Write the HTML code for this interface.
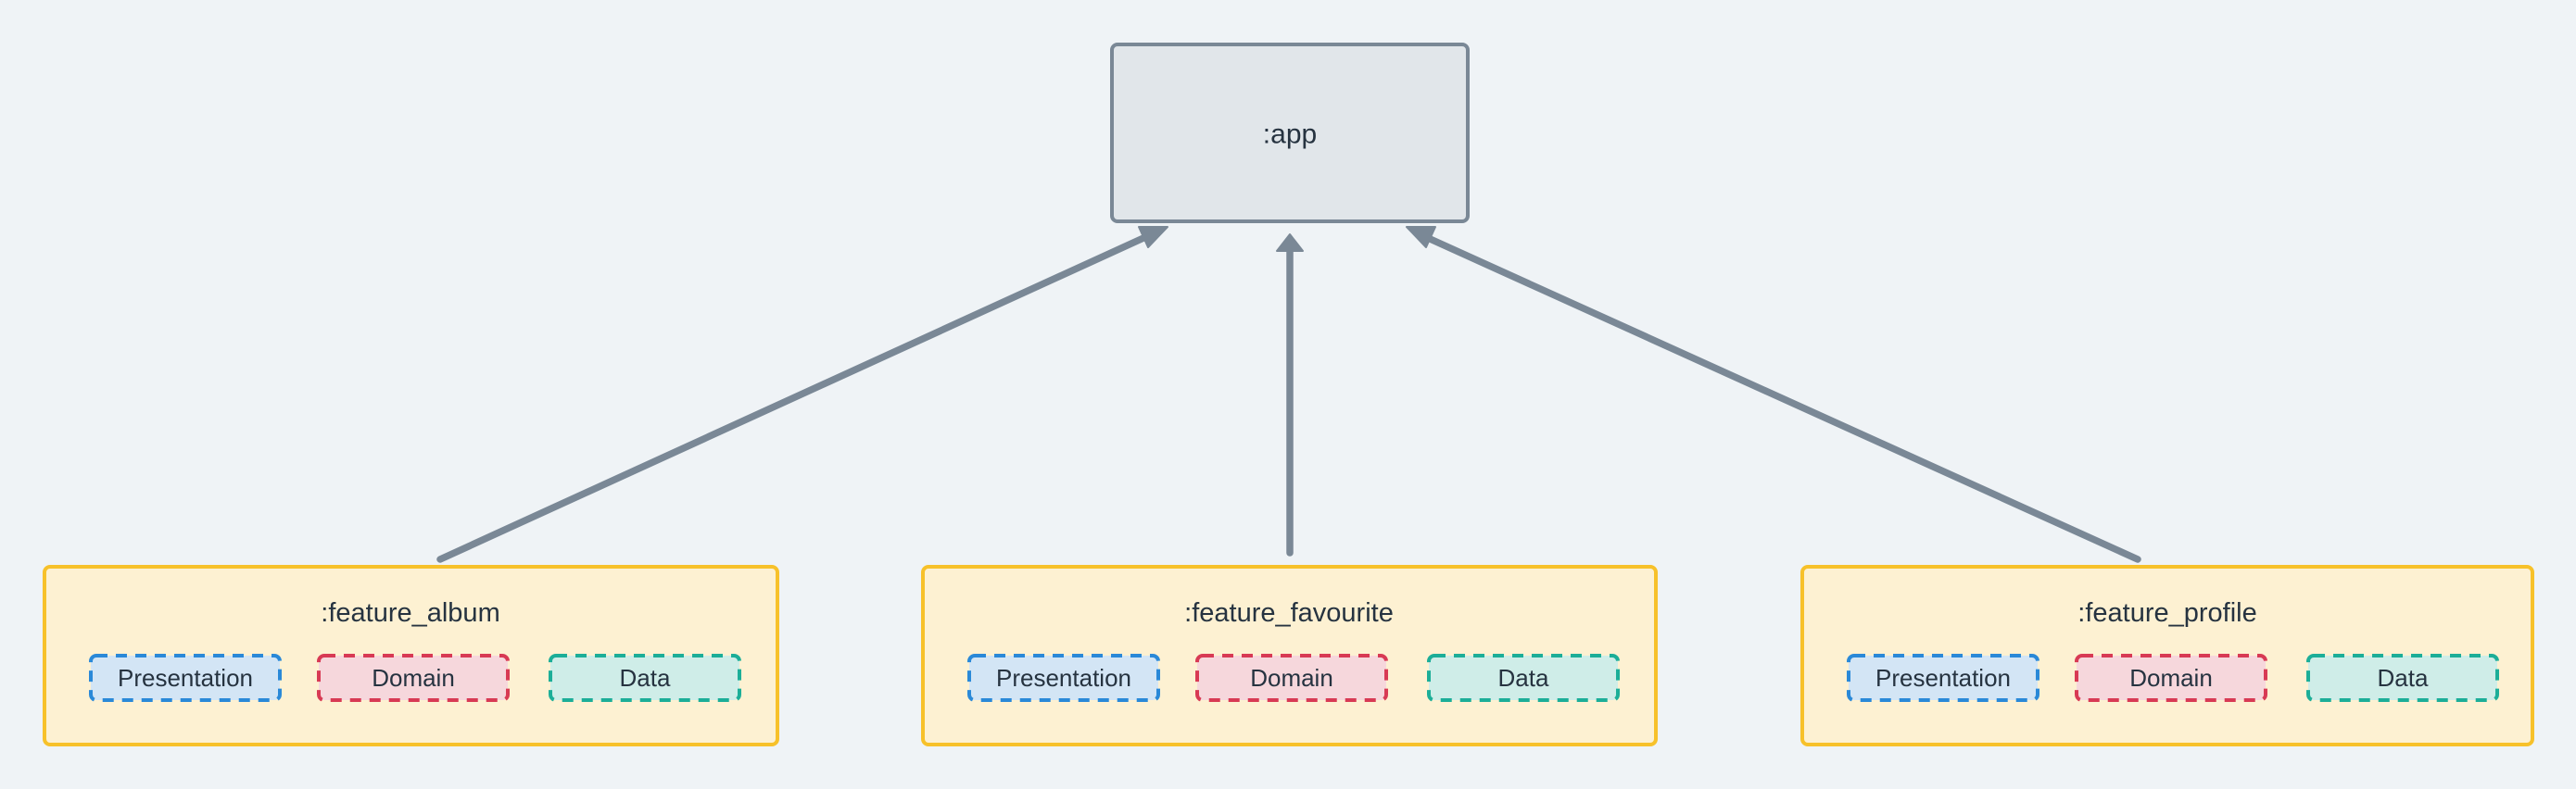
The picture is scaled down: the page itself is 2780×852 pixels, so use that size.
<!DOCTYPE html>
<html><head><meta charset="utf-8"><style>
html,body{margin:0;padding:0;background:#eff3f6;}
svg{display:block}
text{font-family:"Liberation Sans","DejaVu Sans",sans-serif;fill:#263340;text-anchor:middle;dominant-baseline:central}
</style></head><body>
<svg width="2780" height="852" viewBox="0 0 2780 852" xmlns="http://www.w3.org/2000/svg">
<rect width="2780" height="852" fill="#eff3f6"/>
<defs>
<g id="subs">
  <rect x="50" y="96" width="204" height="48" rx="6" fill="#d3e5f5" stroke="#2a89d8" stroke-width="4" stroke-dasharray="12 9"/>
  <rect x="296" y="96" width="204" height="48" rx="6" fill="#f6d7dc" stroke="#d83a54" stroke-width="4" stroke-dasharray="12 9"/>
  <rect x="546" y="96" width="204" height="48" rx="6" fill="#cfede8" stroke="#1cae98" stroke-width="4" stroke-dasharray="12 9"/>
</g>
</defs>
<g stroke="#7a8896" stroke-width="7.5" stroke-linecap="round" fill="none">
  <line x1="475" y1="604" x2="1245" y2="252"/>
  <line x1="1392" y1="597" x2="1392" y2="264"/>
  <line x1="2307" y1="604" x2="1530" y2="252"/>
</g>
<g fill="#7a8896" stroke="#7a8896" stroke-width="2" stroke-linejoin="round">
  <polygon points="1260,245 1239,267 1229,245"/>
  <polygon points="1392,253 1406,271 1378,271"/>
  <polygon points="1518,245 1549,245 1539,267"/>
</g>
<rect x="1200" y="48" width="384" height="191" rx="6" fill="#e1e6ea" stroke="#7a8896" stroke-width="4"/>
<text x="1392" y="145" font-size="30">:app</text>
<g transform="translate(48,612)">
  <rect x="0" y="0" width="791" height="192" rx="6" fill="#fdf1d2" stroke="#f7c12a" stroke-width="4"/>
  <text x="395" y="50" font-size="29">:feature_album</text>
  <use href="#subs"/>
  <text x="152" y="120" font-size="26">Presentation</text>
  <text x="398" y="120" font-size="26">Domain</text>
  <text x="648" y="120" font-size="26">Data</text>
</g>
<g transform="translate(996,612)">
  <rect x="0" y="0" width="791" height="192" rx="6" fill="#fdf1d2" stroke="#f7c12a" stroke-width="4"/>
  <text x="395" y="50" font-size="29">:feature_favourite</text>
  <use href="#subs"/>
  <text x="152" y="120" font-size="26">Presentation</text>
  <text x="398" y="120" font-size="26">Domain</text>
  <text x="648" y="120" font-size="26">Data</text>
</g>
<g transform="translate(1945,612)">
  <rect x="0" y="0" width="788" height="192" rx="6" fill="#fdf1d2" stroke="#f7c12a" stroke-width="4"/>
  <text x="394" y="50" font-size="29">:feature_profile</text>
  <use href="#subs"/>
  <text x="152" y="120" font-size="26">Presentation</text>
  <text x="398" y="120" font-size="26">Domain</text>
  <text x="648" y="120" font-size="26">Data</text>
</g>
</svg>
</body></html>
